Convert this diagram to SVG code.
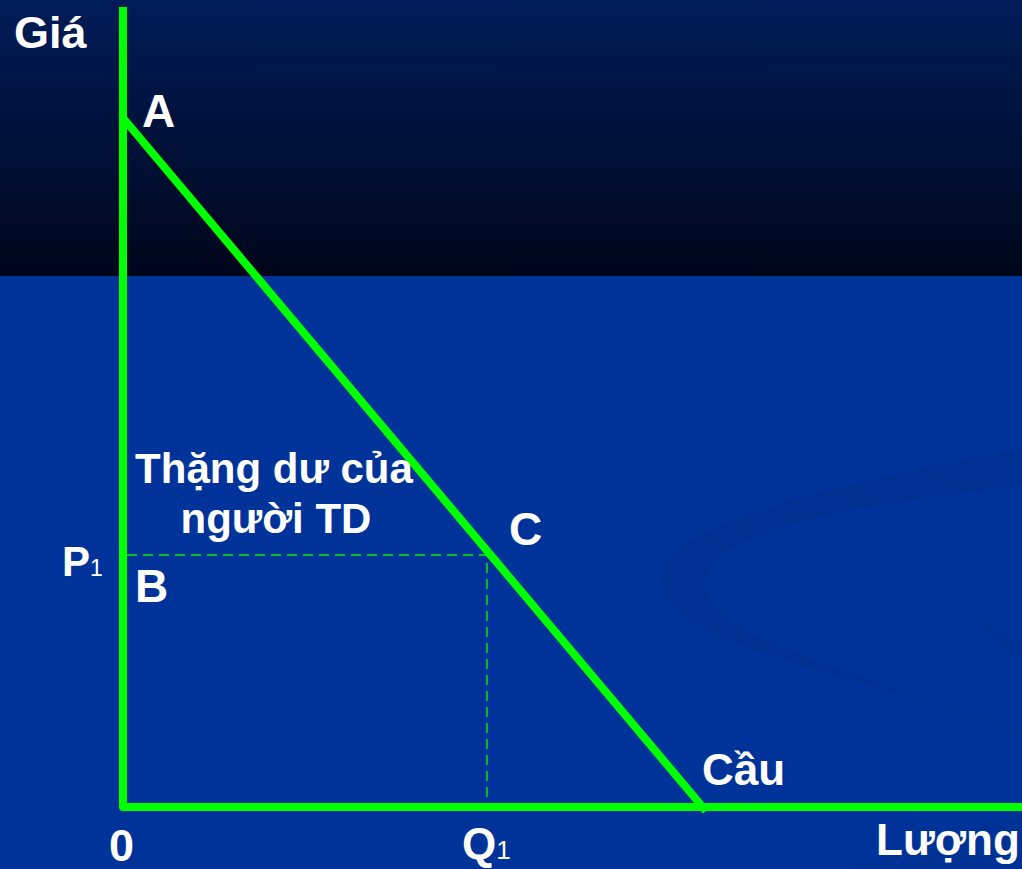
<svg xmlns="http://www.w3.org/2000/svg" width="1022" height="869" viewBox="0 0 1022 869">
<defs>
<linearGradient id="topg" x1="0" y1="0" x2="0" y2="1">
<stop offset="0" stop-color="#001c58"/>
<stop offset="1" stop-color="#00061a"/>
</linearGradient>
</defs>
<style>
.lbl{font-family:"Liberation Sans",Arial,sans-serif;font-weight:bold;fill:#ffffff}
.axis{stroke:#00ff00;stroke-width:8;fill:none}
.dash{stroke:#00ee00;stroke-width:1.5;stroke-dasharray:10 6;fill:none}
</style>
<g id="background">
<rect x="0" y="0" width="1022" height="276" fill="url(#topg)"/>
<rect x="0" y="276" width="1022" height="593" fill="#003399"/>
<path d="M1022,449 C880,475 720,510 672,555 C640,590 680,625 760,652 C830,675 900,690 1022,735 L1022,731 C900,690 800,660 745,630 C700,605 690,575 730,550 C790,515 900,500 1022,485 Z" fill="#002f8e" opacity="0.6"/>
<path d="M960,607 C985,620 1005,635 1022,645 L1022,660 C1000,645 980,630 960,607 Z" fill="#002f8e" opacity="0.45"/>
<path d="M850,869 C920,845 980,828 1022,815 L1022,869 Z" fill="#00308f" opacity="0.5"/>
</g>
<g id="connectors">
<path class="dash" d="M127,555 H487 V803"/>
<path class="axis" d="M123,7 V807 H1022" stroke-linejoin="round"/>
<path class="axis" d="M123,118 L706,811"/>
</g>
<g id="label-gia"><text class="lbl" x="14" y="48" font-size="45">Giá</text></g>
<g id="label-a"><text class="lbl" x="142" y="127" font-size="46">A</text></g>
<g id="label-surplus">
<text class="lbl" x="274" y="483" font-size="42" text-anchor="middle">Thặng dư của</text>
<text class="lbl" x="276" y="533" font-size="42" text-anchor="middle">người TD</text>
</g>
<g id="label-c"><text class="lbl" x="509" y="545" font-size="46">C</text></g>
<g id="label-p1"><text class="lbl" x="62" y="576" font-size="42">P<tspan font-size="23" font-weight="normal">1</tspan></text></g>
<g id="label-b"><text class="lbl" x="135" y="602" font-size="46">B</text></g>
<g id="label-cau"><text class="lbl" x="702" y="785" font-size="44">Cầu</text></g>
<g id="label-0"><text class="lbl" x="109" y="861" font-size="45">0</text></g>
<g id="label-q1"><text class="lbl" x="462" y="859" font-size="44">Q<tspan font-size="26" font-weight="normal">1</tspan></text></g>
<g id="label-luong"><text class="lbl" x="876" y="855" font-size="44">Lượng</text></g>
</svg>
